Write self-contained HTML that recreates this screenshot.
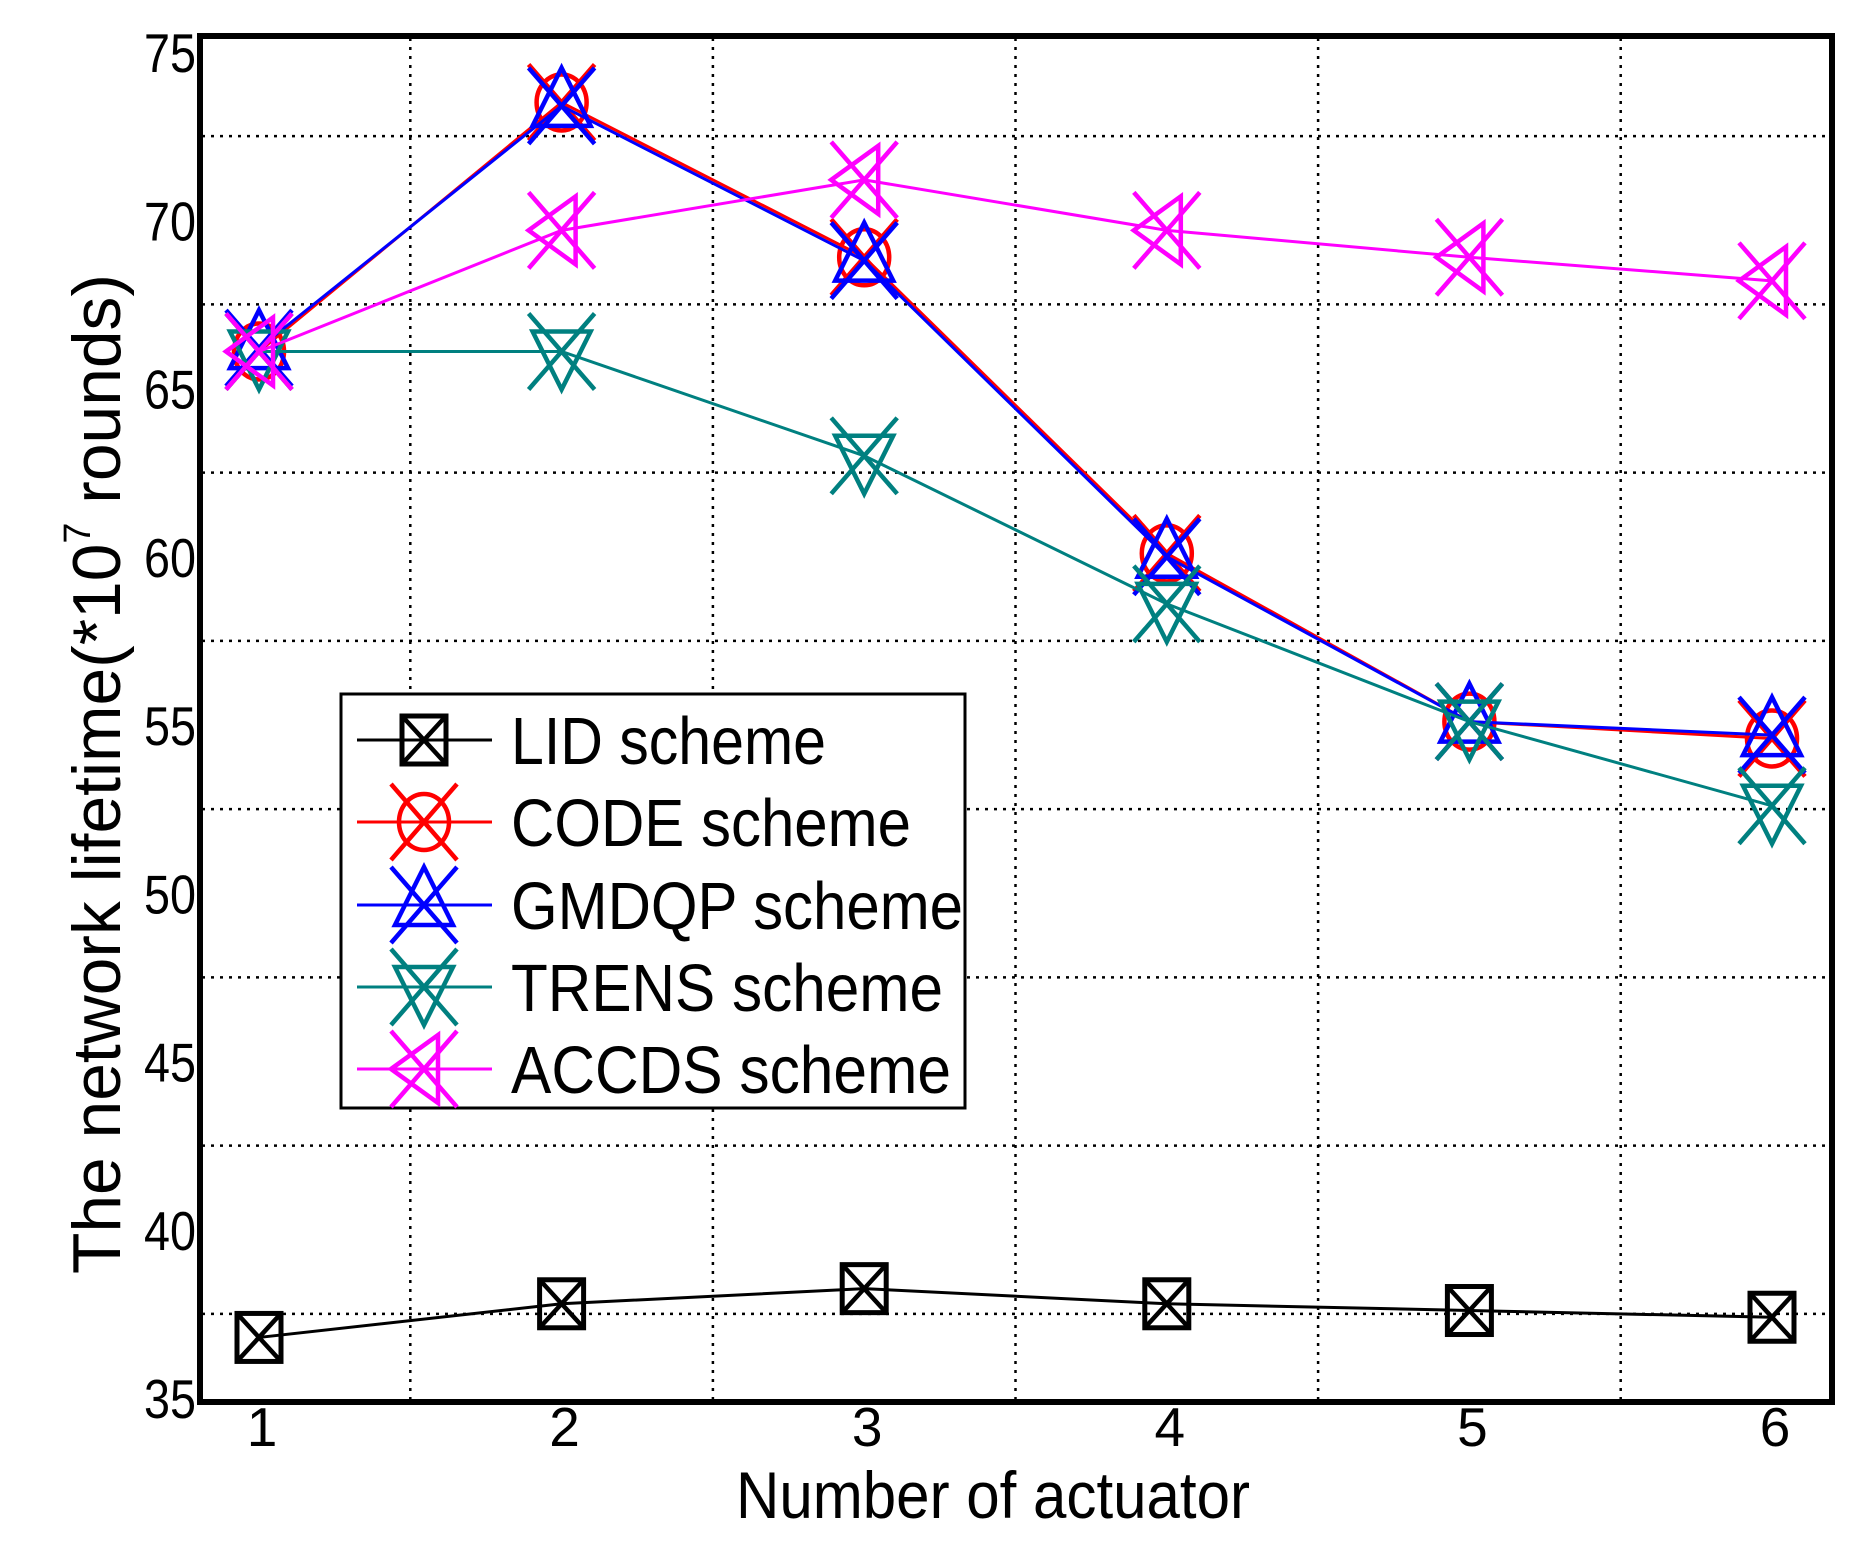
<!DOCTYPE html>
<html><head><meta charset="utf-8"><style>
html,body{margin:0;padding:0;background:#fff;}
svg{display:block;font-family:"Liberation Sans",Arial,sans-serif;}
</style></head><body>
<svg id="chart" width="1866" height="1561" viewBox="0 0 1866 1561">
<g id="grid"></g>
<g id="series"></g>
<rect x="200" y="36" width="1632" height="1366" fill="none" stroke="#000" stroke-width="6"/>
<g id="ticks" font-size="55"></g>
<text x="993" y="1518" font-size="66" text-anchor="middle" textLength="514" lengthAdjust="spacingAndGlyphs">Number of actuator</text>
<text transform="translate(120,774) rotate(-90)" font-size="68" text-anchor="middle" textLength="1000" lengthAdjust="spacingAndGlyphs">The network lifetime(*10<tspan font-size="38" dy="-30">7</tspan><tspan dy="30"> rounds)</tspan></text>
<g id="legend">
<rect x="341" y="694" width="624" height="414" fill="#fff" stroke="#000" stroke-width="3"/>
</g>
</svg>
<script>
const categories = [1, 2, 3, 4, 5, 6];
const yTicks = [35, 40, 45, 50, 55, 60, 65, 70, 75];
const lidValues = [36.8, 37.8, 38.25, 37.8, 37.6, 37.4];
const codeValues = [66.1, 73.5, 68.9, 60.1, 55.1, 54.6];
const gmdqpValues = [66.2, 73.4, 68.8, 60.0, 55.1, 54.7];
const trensValues = [66.1, 66.1, 63.0, 58.6, 55.1, 52.6];
const accdsValues = [66.1, 69.7, 71.2, 69.7, 68.9, 68.2];
const seriesNames = ["LID scheme", "CODE scheme", "GMDQP scheme", "TRENS scheme", "ACCDS scheme"];

const NS = "http://www.w3.org/2000/svg";
function xs(v){ return 259 + (v - 1) * 302.6; }
function ys(v){ return 52 + (75 - v) * 33.65; }
function mk(tag, attrs, parent){ const e = document.createElementNS(NS, tag); for (const k in attrs) e.setAttribute(k, attrs[k]); parent.appendChild(e); return e; }

const grid = document.getElementById('grid');
for (let i = 0; i < categories.length - 1; i++) {
  const gx = xs((categories[i] + categories[i+1]) / 2);
  const l = mk('line', {x1: gx, x2: gx, y1: 38, y2: 1400, stroke: '#000', 'stroke-width': 2.5, 'stroke-dasharray': '3 6'}, grid);
  
  
}
for (let i = 0; i < yTicks.length - 1; i++) {
  const gy = ys((yTicks[i] + yTicks[i+1]) / 2);
  const l = mk('line', {x1: 202, x2: 1830, y1: gy, y2: gy, stroke: '#000', 'stroke-width': 2.5, 'stroke-dasharray': '3 6'}, grid);
  
  
}
const ticks = document.getElementById('ticks');
yTicks.forEach(v => {
  const t = mk('text', {x: 196, y: ys(v) + 20, 'text-anchor': 'end', textLength: 52, lengthAdjust: 'spacingAndGlyphs'}, ticks);
  t.textContent = v;
  
  
});
categories.forEach(c => {
  const t = mk('text', {x: xs(c) + 3, y: 1446, 'text-anchor': 'middle'}, ticks);
  t.textContent = c;
  
  
});

function marker(type, cx, cy, color, parent){
  const g = mk('g', {fill: 'none', stroke: color, 'stroke-width': 4.5}, parent);
  if (type === 'sq') {
    mk('rect', {x: cx-22, y: cy-24, width: 44, height: 48, 'stroke-width': 5}, g);
    mk('path', {d: `M${cx-22} ${cy-24}L${cx+22} ${cy+24}M${cx+22} ${cy-24}L${cx-22} ${cy+24}`}, g);
    return g;
  }
  mk('path', {d: `M${cx-33} ${cy-38}L${cx+33} ${cy+38}M${cx+33} ${cy-38}L${cx-33} ${cy+38}`}, g);
  if (type === 'o') mk('ellipse', {cx: cx, cy: cy, rx: 25, ry: 28}, g);
  if (type === 'up') mk('path', {d: `M${cx} ${cy-38}L${cx+29} ${cy+20}L${cx-29} ${cy+20}Z`}, g);
  if (type === 'down') mk('path', {d: `M${cx} ${cy+38}L${cx+29} ${cy-20}L${cx-29} ${cy-20}Z`}, g);
  if (type === 'left') mk('path', {d: `M${cx-33} ${cy}L${cx+14} ${cy-34}L${cx+14} ${cy+34}Z`}, g);
  return g;
}

const defs = [
  {vals: lidValues, color: '#000000', m: 'sq', name: 'lid'},
  {vals: codeValues, color: '#ff0000', m: 'o', name: 'code'},
  {vals: gmdqpValues, color: '#0000ff', m: 'up', name: 'gmdqp'},
  {vals: trensValues, color: '#008080', m: 'down', name: 'trens'},
  {vals: accdsValues, color: '#ff00ff', m: 'left', name: 'accds'}
];
const sg = document.getElementById('series');
const legend = document.getElementById('legend');
const legY = [740, 822, 905, 987, 1069];
const legW = [315, 400, 452, 432, 440];
defs.forEach((d, i) => {
  const g = mk('g', {}, sg);
  
  
  const pts = d.vals.map((v, j) => xs(categories[j]) + ',' + ys(v)).join(' ');
  const pl = mk('polyline', {points: pts, fill: 'none', stroke: d.color, 'stroke-width': 3}, g);
  
  
  d.vals.forEach((v, j) => {
    const m = marker(d.m, xs(categories[j]), ys(v), d.color, g);
    
    
  });
  const le = mk('g', {}, legend);
  
  
  mk('line', {x1: 357, x2: 492, y1: legY[i], y2: legY[i], stroke: d.color, 'stroke-width': 3}, le);
  marker(d.m, 424, legY[i], d.color, le);
  const t = mk('text', {x: 511, y: legY[i] + 24, 'font-size': 67, textLength: legW[i], lengthAdjust: 'spacingAndGlyphs'}, le);
  t.textContent = seriesNames[i];
  
  
});
</script>
</body></html>
